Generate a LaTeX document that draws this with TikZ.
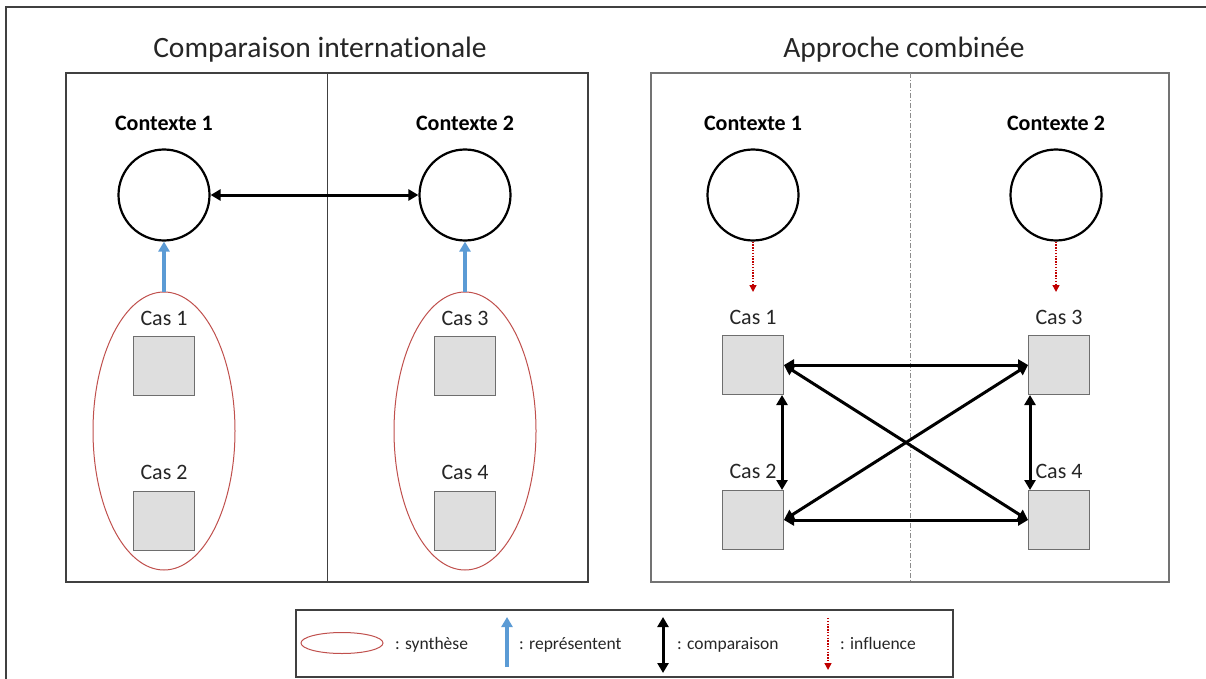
\documentclass[tikz,border=0pt]{standalone}
\usepackage{fontspec}
\setmainfont{Carlito}[Ligatures={NoCommon}]
\usetikzlibrary{arrows.meta,shapes.geometric}
\definecolor{blueA}{RGB}{91,155,213}
\definecolor{redE}{RGB}{192,80,77}
\definecolor{redD}{RGB}{192,0,0}
\definecolor{sqfill}{RGB}{222,222,222}
\definecolor{sqdraw}{RGB}{110,110,110}
\begin{document}
\begin{tikzpicture}[x=1pt,y=-1pt,
  panel/.style={draw=black!75, line width=1.2pt},
  ctx/.style={circle, draw=black, line width=2.2pt, minimum size=91pt, inner sep=0pt},
  ctxlbl/.style={font=\fontsize{22}{26}\selectfont\bfseries, anchor=base, inner sep=0pt},
  titlelbl/.style={font=\fontsize{29.5}{34}\selectfont, anchor=base, inner sep=0pt, text=black!85},
  caselbl/.style={font=\fontsize{22}{26}\selectfont, anchor=base, inner sep=0pt, text=black!85},
  legtxt/.style={font=\fontsize{17.5}{21}\selectfont, anchor=base west, inner sep=0pt, text=black!85},
  casebox/.style={rectangle, draw=sqdraw, fill=sqfill, line width=1pt, minimum width=61pt, minimum height=59pt, inner sep=0pt},
  syn/.style={ellipse, draw=redE, line width=1pt, inner sep=0pt},
  rep/.style={draw=blueA, line width=3.2pt, -{Triangle[length=10pt,width=11pt]}},
  cmp/.style={draw=black, line width=3pt, {Triangle[length=10pt,width=11pt]}-{Triangle[length=10pt,width=11pt]}},
  infl/.style={draw=redD, line width=1.4pt, dash pattern=on 1.4pt off 1.4pt, -{Triangle[length=7pt,width=7pt]}}
]
\useasboundingbox (0,0) rectangle (1206,679);
\fill[white] (0,0) rectangle (1206,679);
% outer frame
\draw[black!75, line width=1.5pt] (6,679) -- (6,7) -- (1206,7);

% ---------- left panel ----------
\node[titlelbl] (t1) at (320,58) {Comparaison internationale};
\draw[panel] (66,73) rectangle (588,582);
\draw[black!75, line width=1pt] (327,73) -- (327,582);

\node[ctxlbl] (la) at (164,131) {Contexte 1};
\node[ctxlbl] (lb) at (465,131) {Contexte 2};
\node[ctx] (ca) at (164,195) {};
\node[ctx] (cb) at (465,195) {};
\draw[cmp] (ca.east) -- (cb.west);

\node[syn, minimum width=142pt, minimum height=278pt] (ea) at (164,431) {};
\node[syn, minimum width=142pt, minimum height=278pt] (eb) at (465,431) {};
\draw[rep] (ea.north) -- (ca.south);
\draw[rep] (eb.north) -- (cb.south);

\node[caselbl] (pa1) at (164,325) {Cas 1};
\node[casebox] (qa1) at (164,366) {};
\node[caselbl] (pa2) at (164,479) {Cas 2};
\node[casebox] (qa2) at (164,521) {};
\node[caselbl] (pb1) at (465,325) {Cas 3};
\node[casebox] (qb1) at (465,366) {};
\node[caselbl] (pb2) at (465,479) {Cas 4};
\node[casebox] (qb2) at (465,521) {};

% ---------- right panel ----------
\node[titlelbl] (t2) at (904,58) {Approche combinée};
\draw[draw=black!55, line width=1.2pt] (651,73) rectangle (1169,582);
\draw[black!45, line width=0.8pt, dash pattern=on 5pt off 2pt on 1pt off 2pt] (910,73) -- (910,582);

\node[ctxlbl] (ra) at (753,131) {Contexte 1};
\node[ctxlbl] (rb) at (1056,131) {Contexte 2};
\node[ctx] (da) at (753,195) {};
\node[ctx] (db) at (1056,195) {};
\coordinate (ia) at (753,292);
\coordinate (ib) at (1056,292);
\draw[infl] (da.south) -- (ia);
\draw[infl] (db.south) -- (ib);

\node[caselbl] (r1) at (753,324) {Cas 1};
\node[casebox] (s1) at (753,365) {};
\node[caselbl] (r2) at (753,478) {Cas 2};
\node[casebox] (s2) at (753,520) {};
\node[caselbl] (r3) at (1059,324) {Cas 3};
\node[casebox] (s3) at (1059,365) {};
\node[caselbl] (r4) at (1059,478) {Cas 4};
\node[casebox] (s4) at (1059,520) {};

\draw[cmp] (s1.east) -- (s3.west);
\draw[cmp] (s2.east) -- (s4.west);
\draw[cmp] (s1.east) -- (s4.west);
\draw[cmp] (s2.east) -- (s3.west);
\draw[cmp] ([xshift=-2pt]s1.south east) -- ([xshift=-2pt]s2.north east);
\draw[cmp] ([xshift=2pt]s3.south west) -- ([xshift=2pt]s4.north west);

% ---------- legend ----------
\node[draw=black!75, line width=1.2pt, minimum width=657pt, minimum height=67pt, inner sep=0pt] (leg) at (624.5,643.5) {};
\node[syn, minimum width=82pt, minimum height=21pt] (le) at (342,643) {};
\node[legtxt] (lt1) at (395,649) {: synthèse};
\coordinate (lb1) at (507,667);
\coordinate (lb2) at (507,617);
\draw[rep] (lb1) -- (lb2);
\node[legtxt] (lt2) at (519,649) {: représentent};
\coordinate (lc1) at (663,617);
\coordinate (lc2) at (663,673);
\draw[cmp] (lc1) -- (lc2);
\node[legtxt] (lt3) at (677,649) {: comparaison};
\coordinate (ld1) at (828,618);
\coordinate (ld2) at (828,670);
\draw[infl] (ld1) -- (ld2);
\node[legtxt] (lt4) at (840,649) {: influence};
\end{tikzpicture}
\end{document}
